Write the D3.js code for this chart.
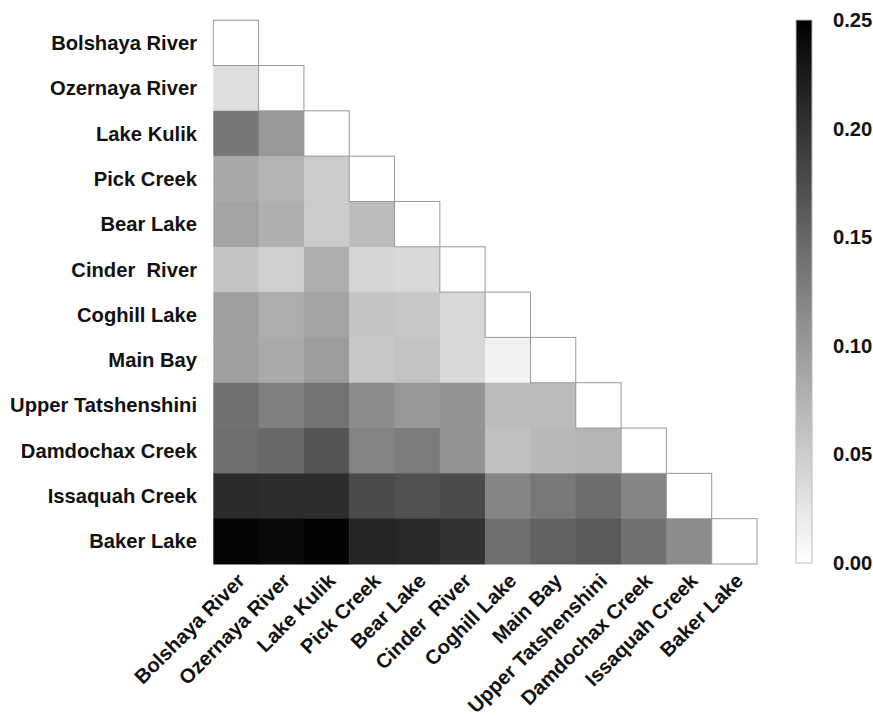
<!DOCTYPE html>
<html>
<head>
<meta charset="utf-8">
<script src="https://cdn.jsdelivr.net/npm/d3@7"></script>
<style>
  html, body { margin: 0; padding: 0; background: #fff; }
  text { font-family: Arial, "Liberation Sans", sans-serif; font-weight: bold; fill: #111; }
</style>
</head>
<body>
<svg id="chart" width="873" height="716"></svg>
<script>
// Population names, in matrix order
const populations = [
  "Bolshaya River", "Ozernaya River", "Lake Kulik", "Pick Creek", "Bear Lake",
  "Cinder  River", "Coghill Lake", "Main Bay", "Upper Tatshenshini",
  "Damdochax Creek", "Issaquah Creek", "Baker Lake"
];

// Lower-triangle pairwise values; row i holds columns 0..i-1 (diagonal is 0)
const rowOzernaya   = [0.033];
const rowKulik      = [0.133, 0.100];
const rowPick       = [0.085, 0.075, 0.051];
const rowBear       = [0.090, 0.077, 0.051, 0.066];
const rowCinder     = [0.058, 0.047, 0.080, 0.041, 0.038];
const rowCoghill    = [0.093, 0.080, 0.090, 0.058, 0.056, 0.039];
const rowMainBay    = [0.093, 0.083, 0.097, 0.054, 0.059, 0.038, 0.013];
const rowUpperTat   = [0.140, 0.125, 0.137, 0.113, 0.101, 0.105, 0.066, 0.067];
const rowDamdochax  = [0.142, 0.147, 0.167, 0.121, 0.128, 0.106, 0.062, 0.070, 0.073];
const rowIssaquah   = [0.209, 0.206, 0.206, 0.177, 0.172, 0.176, 0.120, 0.132, 0.143, 0.120];
const rowBaker      = [0.245, 0.240, 0.248, 0.214, 0.211, 0.200, 0.142, 0.154, 0.162, 0.140, 0.113];

const lowerRows = [[], rowOzernaya, rowKulik, rowPick, rowBear, rowCinder, rowCoghill,
  rowMainBay, rowUpperTat, rowDamdochax, rowIssaquah, rowBaker];

// Colour bar tick labels
const legendTicks = [0.00, 0.05, 0.10, 0.15, 0.20, 0.25];

const svg = d3.select("#chart");

const x = d3.scaleBand().domain(populations).range([213.3, 757]).padding(0);
const y = d3.scaleBand().domain(populations).range([20.2, 564]).padding(0);
const color = d3.scaleLinear().domain([0, 0.25]).range(["#ffffff", "#000000"]).clamp(true);

// Build cells
const cells = [];
lowerRows.forEach((vals, i) => {
  vals.forEach((v, j) => cells.push({ row: populations[i], col: populations[j], value: v, diag: false }));
  cells.push({ row: populations[i], col: populations[i], value: 0, diag: true });
});

const g = svg.append("g");

g.selectAll("rect.cell")
  .data(cells.filter(d => !d.diag))
  .join("rect")
  .attr("class", "cell")
  .attr("x", d => x(d.col))
  .attr("y", d => y(d.row))
  .attr("width", x.bandwidth() + 0.5)
  .attr("height", y.bandwidth() + 0.5)
  .attr("fill", d => color(d.value));

g.selectAll("rect.diag")
  .data(cells.filter(d => d.diag))
  .join("rect")
  .attr("class", "diag")
  .attr("x", d => x(d.col))
  .attr("y", d => y(d.row))
  .attr("width", x.bandwidth())
  .attr("height", y.bandwidth())
  .attr("fill", d => color(d.value))
  .attr("stroke", "#999")
  .attr("stroke-width", 1);

// Row labels
svg.append("g")
  .selectAll("text")
  .data(populations)
  .join("text")
  .attr("x", 197)
  .attr("y", d => y(d) + y.bandwidth() / 2)
  .attr("dy", "0.35em")
  .attr("text-anchor", "end")
  .style("font-size", "20.2px")
  .style("white-space", "pre")
  .text(d => d);

// Column labels, rotated
svg.append("g")
  .selectAll("text")
  .data(populations)
  .join("text")
  .attr("transform", d => `translate(${x(d) + x.bandwidth() / 2 + 5},${577}) rotate(-45)`)
  .attr("dy", "0.35em")
  .attr("text-anchor", "end")
  .style("font-size", "20.2px")
  .style("white-space", "pre")
  .text(d => d);

// Colour bar
const barX = 796, barW = 16, barTop = 20, barBottom = 563;
const defs = svg.append("defs");
const grad = defs.append("linearGradient")
  .attr("id", "bar-grad")
  .attr("x1", 0).attr("y1", 1).attr("x2", 0).attr("y2", 0);
d3.range(0, 1.0001, 0.1).forEach(t => {
  grad.append("stop").attr("offset", t).attr("stop-color", color(t * 0.25));
});

const barScale = d3.scaleLinear().domain([0, 0.25]).range([barBottom, barTop]);

svg.append("rect")
  .attr("x", barX)
  .attr("y", barTop)
  .attr("width", barW)
  .attr("height", barBottom - barTop)
  .attr("fill", "url(#bar-grad)")
  .attr("stroke", "#bbb")
  .attr("stroke-width", 1);

const legendAxis = d3.axisRight(barScale)
  .tickValues(legendTicks)
  .tickFormat(d3.format(".2f"))
  .tickSize(0)
  .tickPadding(21);

const ag = svg.append("g")
  .attr("transform", `translate(${barX + barW},0)`)
  .call(legendAxis);
ag.select(".domain").remove();
ag.selectAll("text")
  .style("font-size", "20.2px")
  .style("font-family", "Arial, 'Liberation Sans', sans-serif")
  .style("font-weight", "bold")
  .attr("fill", "#111");
</script>
</body>
</html>
